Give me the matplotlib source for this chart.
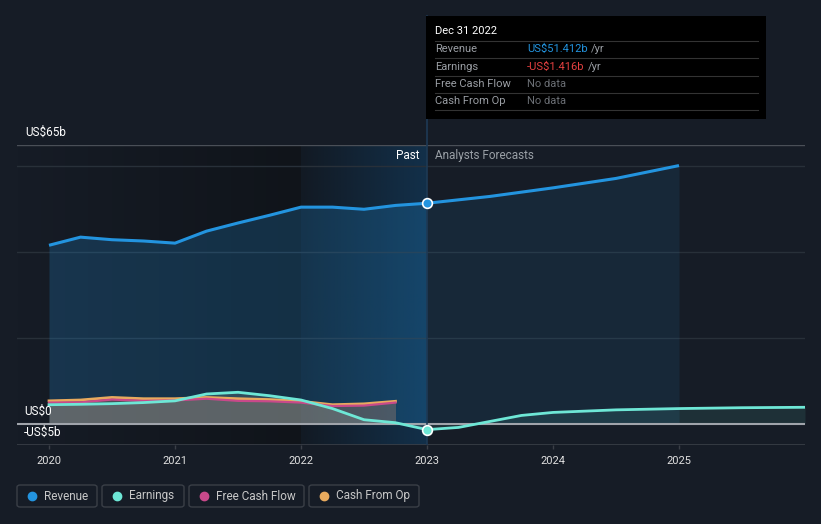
import matplotlib
matplotlib.use("Agg")
import matplotlib.pyplot as plt
import numpy as np
from matplotlib.patches import FancyBboxPatch, Rectangle
from matplotlib.lines import Line2D
from matplotlib.colors import LinearSegmentedColormap

plt.rcParams['font.family'] = ['Roboto', 'DejaVu Sans']

# data (US$ billions)
rev_past_x = [2020.0, 2020.25, 2020.5, 2020.75, 2021.0, 2021.25, 2021.5, 2021.75,
              2022.0, 2022.25, 2022.5, 2022.75, 2023.0]
rev_past = [41.6, 43.5, 42.9, 42.6, 42.1, 44.9, 46.8, 48.6, 50.5, 50.5, 50.0, 50.9, 51.412]
rev_fc_x = [2023.0, 2023.5, 2024.0, 2024.5, 2025.0]
rev_fc = [51.412, 53.0, 55.0, 57.2, 60.2]

earn_past_x = rev_past_x
earn_past = [4.4, 4.5, 4.65, 4.9, 5.3, 6.9, 7.3, 6.5, 5.5, 3.5, 0.9, 0.2, -1.416]
earn_fc_x = [2023.0, 2023.25, 2023.5, 2023.75, 2024.0, 2024.5, 2025.0, 2025.5, 2026.0]
earn_fc = [-1.416, -0.9, 0.5, 1.9, 2.6, 3.2, 3.5, 3.7, 3.8]

cf_x = [2020.0, 2020.25, 2020.5, 2020.75, 2021.0, 2021.25, 2021.5, 2021.75,
        2022.0, 2022.25, 2022.5, 2022.75]
cfo = [5.3, 5.5, 6.1, 5.8, 5.8, 6.1, 5.8, 5.6, 5.2, 4.4, 4.6, 5.2]
fcf = [4.9, 4.95, 5.6, 5.3, 5.4, 5.8, 5.3, 5.2, 4.9, 4.1, 4.2, 4.9]

year_ticks = [2020, 2021, 2022, 2023, 2024, 2025]
grid_vals = [20, 40, 60]

BG = "#161c26"
C_REV = "#2394df"
C_EARN = "#6ee7d6"
C_FCF = "#c8498a"
C_CFO = "#e8aa5e"

W, H = 821, 524
fig = plt.figure(figsize=(W / 100, H / 100), dpi=100, facecolor=BG)


def fx(px):
    return px / W


def fy(py):
    return 1 - py / H


ax = fig.add_axes([fx(17), fy(445), fx(805) - fx(17), fy(145) - fy(445)])
ax.set_facecolor(BG)
x0, x1 = 2019.746, 2026.0
ax.set_xlim(x0, x1)
ax.set_ylim(-5, 65)
for s in ax.spines.values():
    s.set_visible(False)

# background shading: dark past zone and highlighted last year
grad = np.linspace(0, 1, 256).reshape(1, -1)
cm_dark = LinearSegmentedColormap.from_list("d", ["#161c26", "#10141a"])
ax.imshow(grad, extent=[x0, 2022.0, -5, 65], aspect="auto", cmap=cm_dark, zorder=0)
cm_hi = LinearSegmentedColormap.from_list("h", ["#121a24", "#12304a"])
ax.imshow(grad, extent=[2022.0, 2023.0, -5, 65], aspect="auto", cmap=cm_hi, zorder=0)

# grid lines
for g in grid_vals:
    ax.axhline(g, color="#283039", lw=1, zorder=1)
ax.axhline(65, color="#4a4f57", lw=1, zorder=1)
ax.axhline(-5, color="#3a3f47", lw=1.2, zorder=1)

# revenue
ax.fill_between(rev_past_x, rev_past, 0, color=C_REV, alpha=0.22, lw=0, zorder=2)
ax.fill_between(rev_fc_x, rev_fc, 0, color=C_REV, alpha=0.1, lw=0, zorder=2)
ax.plot(rev_past_x + rev_fc_x[1:], rev_past + rev_fc[1:], color=C_REV, lw=2.2,
        solid_capstyle="butt", zorder=5)

# cash flows and earnings
ax.fill_between(cf_x, cfo, 0, color="#b08870", alpha=0.35, lw=0, zorder=3)
ax.fill_between(earn_past_x, earn_past, 0, color="#a8b8b0", alpha=0.2, lw=0, zorder=3)
ax.fill_between(earn_fc_x, earn_fc, 0, color=C_EARN, alpha=0.1, lw=0, zorder=3)
ax.plot(cf_x, cfo, color=C_CFO, lw=2.0, zorder=5)
ax.plot(cf_x, fcf, color=C_FCF, lw=1.6, zorder=5)
ax.plot(earn_past_x + earn_fc_x[1:], earn_past + earn_fc[1:], color=C_EARN, lw=2.0, zorder=6)

ax.axhline(0, color="#a0a4ab", lw=1.5, zorder=4)

# cursor line at Dec 31 2022
ax.axvline(2023.0, color="#1e3a55", lw=1.2, zorder=7)
fig.add_artist(Line2D([fx(427), fx(427)], [fy(16), fy(145)], color="#1e3a55", lw=1.2))

# markers at Dec 31 2022
ax.plot([2023.0], [rev_past[-1]], "o", ms=7, mfc=C_REV, mec="white", mew=1.2, zorder=8)
ax.plot([2023.0], [earn_past[-1]], "o", ms=7, mfc=C_EARN, mec="white", mew=1.2, zorder=8)

# ticks
ax.set_xticks(year_ticks)
ax.set_xticklabels([str(y) for y in year_ticks])
ax.tick_params(axis="x", colors="#3a3f47", labelcolor="#e0e0e0", labelsize=8,
               length=3, width=1, pad=5)
ax.set_yticks([])

ax.text(2022.94, 62.5, "Past", color="white", fontsize=8.5, ha="right", va="center", zorder=9)
ax.text(2023.06, 62.5, "Analysts Forecasts", color="#9aa0a6", fontsize=8.5, ha="left",
        va="center", zorder=9)

fig.text(fx(25), fy(132), "US$65b", color="white", fontsize=8.5, va="center")
fig.text(fx(24), fy(411), "US$0", color="white", fontsize=8.5, va="center")
fig.text(fx(24), fy(432), "-US$5b", color="white", fontsize=8.5, va="center")

# tooltip
fig.add_artist(Rectangle((fx(426), fy(119)), fx(766) - fx(426), fy(16) - fy(119),
                         facecolor="black", edgecolor="none", zorder=5))
fig.text(fx(435), fy(31), "Dec 31 2022", color="white", fontsize=8, va="center", zorder=6)
rows = [("Revenue", "US$51.412b", C_REV), ("Earnings", "-US$1.416b", "#e64141"),
        ("Free Cash Flow", "No data", "#6b6f75"), ("Cash From Op", "No data", "#6b6f75")]
for i, (lab, val, col) in enumerate(rows):
    yy = 49 + i * 17.5
    fig.add_artist(Line2D([fx(435), fx(758)], [fy(yy - 8.5), fy(yy - 8.5)], color="#333",
                          lw=0.8, zorder=6))
    fig.text(fx(435), fy(yy), lab, color="#9a9ea4", fontsize=8, va="center", zorder=6)
    t = fig.text(fx(527), fy(yy), val, color=col, fontsize=8, va="center", zorder=6)
    if val != "No data":
        fig.canvas.draw()
        bb = t.get_window_extent()
        fig.text(bb.x1 / W + fx(3), fy(yy), "/yr", color="#9a9ea4", fontsize=8,
                 va="center", zorder=6)
fig.add_artist(Line2D([fx(435), fx(758)], [fy(110), fy(110)], color="#333", lw=0.8, zorder=6))

# legend buttons
legend_items = [("Revenue", C_REV, 17, 97), ("Earnings", C_EARN, 102, 184),
                ("Free Cash Flow", C_FCF, 189, 304), ("Cash From Op", C_CFO, 309, 419)]
for lab, col, xa, xb in legend_items:
    fig.add_artist(FancyBboxPatch((fx(xa), fy(507)), fx(xb) - fx(xa), fy(485) - fy(507),
                                  boxstyle="round,pad=0,rounding_size=0.004",
                                  facecolor=BG, edgecolor="#3a3f47", lw=1))
    fig.add_artist(Line2D([fx(xa + 15)], [fy(496)], marker="o", ms=6, color=col, lw=0))
    fig.text(fx(xa + 27), fy(496), lab, color="#c8c8c8", fontsize=8.5, va="center")

fig.savefig("out.png", dpi=100, facecolor=BG)
